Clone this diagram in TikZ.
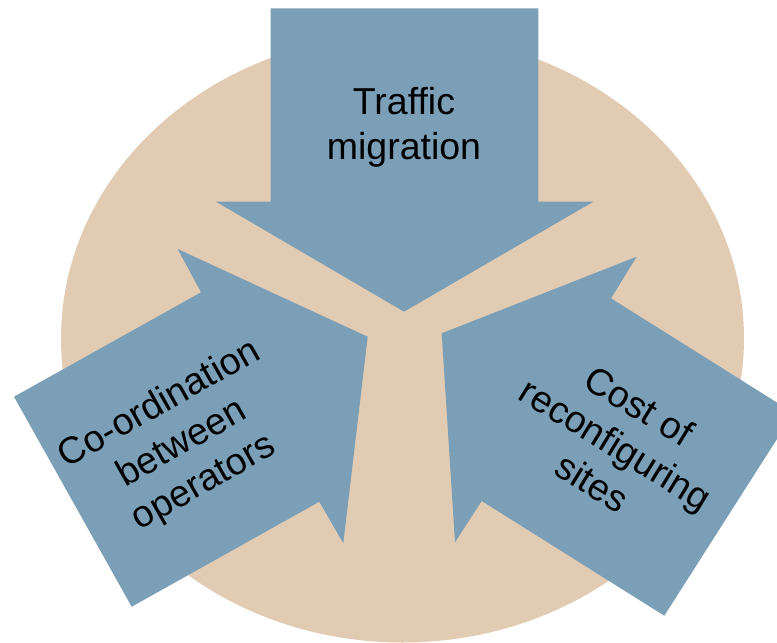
\documentclass[tikz,border=0pt]{standalone}
\usepackage{fontspec}
\setmainfont{Liberation Sans}
\definecolor{ringfill}{RGB}{226,203,179}
\definecolor{arrowfill}{RGB}{123,159,183}
\begin{document}
\begin{tikzpicture}[x=1pt,y=-1pt,
  arrowshape/.style={fill=arrowfill, draw=none},
  caption/.style={font=\fontsize{37.5}{45}\selectfont, align=center, text=black, inner sep=0pt}]
\useasboundingbox (0,0) rectangle (777,643);
\clip (0,0) rectangle (777,643);
% background disc
\fill[ringfill] (402.5,338.5) ellipse [x radius=341.5, y radius=304];
% downward arrow
\fill[arrowshape] (270.7,8.3) -- (538.3,8.3) -- (538.3,201.7) -- (593.3,201.7)
  -- (404,311.7) -- (216,201.7) -- (270.7,201.7) -- cycle;
% arrow from lower left
\fill[arrowshape] (14,396.7) -- (201,292.3) -- (177.7,249) -- (367.7,336.7)
  -- (343.3,543.3) -- (319.3,501.7) -- (131.7,606.7) -- cycle;
% arrow from lower right
\fill[arrowshape] (793.6,413) -- (611,298.3) -- (636.7,256.7) -- (441.7,333.3)
  -- (455,542.3) -- (481.7,501) -- (664.3,615.7) -- cycle;
% captions
\node[caption] (traffic) at (404,127.5) {Traffic\\migration};
\node[caption, rotate=29.5] (coord) at (182,444) {Co-ordination\\between\\operators};
\node[caption, rotate=-31.5] (cost) at (616,444) {Cost of\\reconfiguring\\sites};
\end{tikzpicture}
\end{document}
